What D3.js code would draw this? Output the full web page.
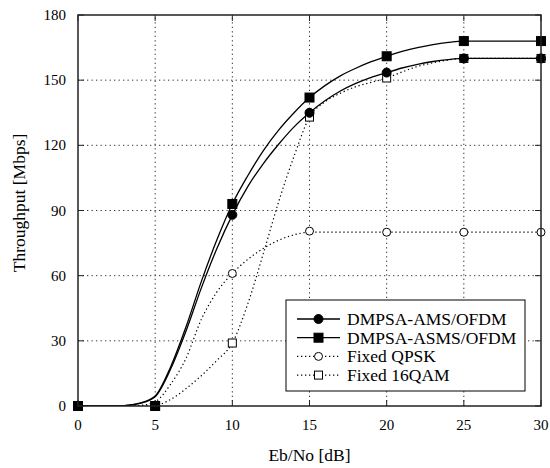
<!DOCTYPE html>
<html>
<head>
<meta charset="utf-8">
<script src="https://cdn.jsdelivr.net/npm/d3@7"></script>
<style>
  body { margin: 0; background: #fff; }
  svg text { font-family: "Liberation Serif", "Times New Roman", Times, serif; }
</style>
</head>
<body>
<div id="chart"></div>
<script>
// tick values
const xTicks = [0, 5, 10, 15, 20, 25, 30];
const yTicks = [0, 30, 60, 90, 120, 150, 180];

// markers every 5 dB
const markX = [0, 5, 10, 15, 20, 25, 30];
const amsMarks  = [0, 0, 88, 135, 153.5, 160, 160];
const asmsMarks = [0, 0, 93, 142, 161, 168, 168];
const qpskMarks = [0, 0, 61, 80.5, 80, 80, 80];
const qamMarks  = [0, 0, 29, 133, 151, 160, 160];

// curves read at 1 dB steps
const lineX = [0,1,2,3,4,5,6,7,8,9,10,11,12,13,14,15,16,17,18,19,20,21,22,23,24,25,26,27,28,29,30];
const amsLine  = [0,0,0,0.2,1.2,4.3,17,34.5,54.5,72.5,88,101,111.5,120.5,128.5,135,140.5,145,148.5,151.3,153.5,155.6,157.3,158.6,159.5,160,160,160,160,160,160];
const asmsLine = [0,0,0,0.2,1.3,4.6,18,36.5,57.5,76.5,93,106,117.5,127,135,142,147.5,152,155.5,158.5,161,163.2,165,166.4,167.4,168,168,168,168,168,168];
const qpskLine = [0,0,0,0,0.3,2,10,22,40,52.5,61,67.5,72.5,76.3,78.8,80,80,80,80,80,80,80,80,80,80,80,80,80,80,80,80];
const qamLine  = [0,0,0,0,0,0.3,3,8,14,21,29,47,70,94,115,133,140,144,147,149,151,153.8,156.3,158,159.3,160,160,160,160,160,160];

const series = [
  {name: "Fixed 16QAM",      line: qamLine,  marks: qamMarks,  shape: "square", filled: false, dotted: true},
  {name: "Fixed QPSK",       line: qpskLine, marks: qpskMarks, shape: "circle", filled: false, dotted: true},
  {name: "DMPSA-AMS/OFDM",   line: amsLine,  marks: amsMarks,  shape: "circle", filled: true,  dotted: false},
  {name: "DMPSA-ASMS/OFDM",  line: asmsLine, marks: asmsMarks, shape: "square", filled: true,  dotted: false}
];
const legendOrder = [2, 3, 1, 0];

const W = 550, H = 468;
const m = {left: 78, right: 9, top: 15, bottom: 62};
const iw = W - m.left - m.right, ih = H - m.top - m.bottom;

const svg = d3.select("#chart").append("svg").attr("width", W).attr("height", H);

const x = d3.scaleLinear().domain([0, 30]).range([m.left, m.left + iw]);
const y = d3.scaleLinear().domain([0, 180]).range([m.top + ih, m.top]);

// grid
const grid = svg.append("g").attr("class", "grid")
  .attr("stroke", "#333").attr("stroke-width", 1).attr("stroke-dasharray", "1.3,3.2");
grid.selectAll(".gx").data(xTicks.slice(1, -1)).enter().append("line")
  .attr("x1", d => x(d)).attr("x2", d => x(d)).attr("y1", y(0)).attr("y2", y(180));
grid.selectAll(".gy").data(yTicks.slice(1, -1)).enter().append("line")
  .attr("y1", d => y(d)).attr("y2", d => y(d)).attr("x1", x(0)).attr("x2", x(30));

// mirrored inward ticks
const tl = 6;
const ticks = svg.append("g").attr("stroke", "#222").attr("stroke-width", 1);
xTicks.forEach(function(d){
  ticks.append("line").attr("x1", x(d)).attr("x2", x(d)).attr("y1", y(0)).attr("y2", y(0) - tl);
  ticks.append("line").attr("x1", x(d)).attr("x2", x(d)).attr("y1", y(180)).attr("y2", y(180) + tl);
});
yTicks.forEach(function(d){
  ticks.append("line").attr("y1", y(d)).attr("y2", y(d)).attr("x1", x(0)).attr("x2", x(0) + tl);
  ticks.append("line").attr("y1", y(d)).attr("y2", y(d)).attr("x1", x(30)).attr("x2", x(30) - tl);
});

// tick labels
svg.append("g").selectAll("text").data(xTicks).enter().append("text")
  .attr("x", d => x(d)).attr("y", 430).attr("text-anchor", "middle")
  .style("font-size", "15px").text(d => d);
svg.append("g").selectAll("text").data(yTicks).enter().append("text")
  .attr("x", 66).attr("y", d => y(d) + 5).attr("text-anchor", "end")
  .style("font-size", "15px").text(d => d);

// axis titles
svg.append("text").attr("x", x(15)).attr("y", 461).attr("text-anchor", "middle")
  .style("font-size", "17.5px").text("Eb/No [dB]");
svg.append("text").attr("transform", "translate(25," + 203 + ") rotate(-90)")
  .attr("text-anchor", "middle").style("font-size", "17.5px").text("Throughput [Mbps]");

// curves
svg.append("clipPath").attr("id", "clip").append("rect")
  .attr("x", x(0)).attr("y", y(180)).attr("width", iw).attr("height", ih);

const line = d3.line().x(d => x(d[0])).y(d => y(d[1])).curve(d3.curveMonotoneX);

function drawMarker(g, s, cx, cy) {
  if (s.shape === "circle") {
    g.append("circle").attr("cx", cx).attr("cy", cy).attr("r", s.filled ? 4.5 : 4)
      .attr("fill", s.filled ? "#000" : "#fff").attr("stroke", "#000").attr("stroke-width", 1);
  } else {
    const a = s.filled ? 9 : 8;
    g.append("rect").attr("x", cx - a / 2).attr("y", cy - a / 2).attr("width", a).attr("height", a)
      .attr("fill", s.filled ? "#000" : "#fff").attr("stroke", "#000").attr("stroke-width", 1);
  }
}

series.forEach(function(s){
  svg.append("path")
    .datum(lineX.map((v, i) => [v, s.line[i]]))
    .attr("d", line)
    .attr("clip-path", "url(#clip)")
    .attr("fill", "none").attr("stroke", "#000")
    .attr("stroke-width", s.dotted ? 1.2 : 1.3)
    .attr("stroke-dasharray", s.dotted ? "1.3,2.7" : null);
});
series.forEach(function(s){
  const g = svg.append("g");
  markX.forEach((v, i) => drawMarker(g, s, x(v), y(s.marks[i])));
});

// frame
svg.append("rect").attr("x", x(0)).attr("y", y(180)).attr("width", iw).attr("height", ih)
  .attr("fill", "none").attr("stroke", "#222").attr("stroke-width", 1.5);

// legend
const lg = svg.append("g");
lg.append("rect").attr("x", 286).attr("y", 300).attr("width", 239).attr("height", 91)
  .attr("fill", "#fff").attr("stroke", "#000").attr("stroke-width", 1);
legendOrder.forEach(function(k, i){
  const s = series[k];
  const cy = 319 + i * 18.7;
  lg.append("line").attr("x1", 297).attr("x2", 340).attr("y1", cy).attr("y2", cy)
    .attr("stroke", "#000").attr("stroke-width", s.dotted ? 1.2 : 1.3)
    .attr("stroke-dasharray", s.dotted ? "1.3,2.7" : null);
  drawMarker(lg, s, 318.5, cy);
  lg.append("text").attr("x", 347).attr("y", cy + 6).style("font-size", "17.5px").text(s.name);
});
</script>
</body>
</html>
